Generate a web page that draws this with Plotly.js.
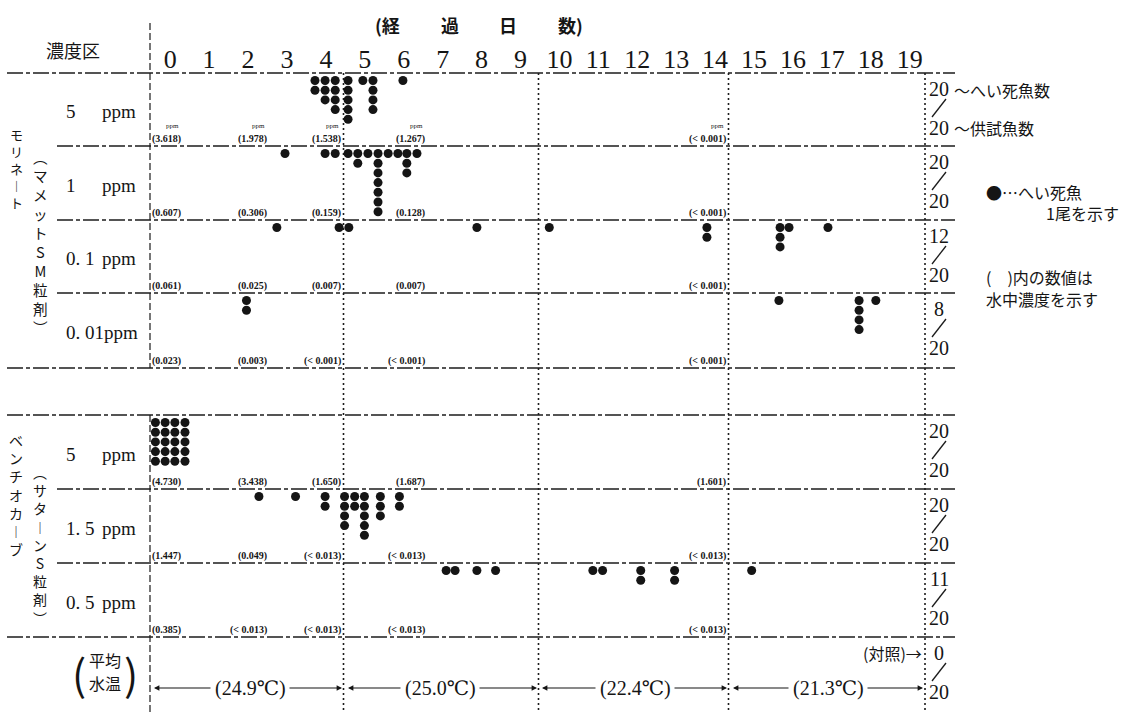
<!DOCTYPE html>
<html>
<head>
<meta charset="utf-8">
<script src="https://cdn.plot.ly/plotly-3.0.1.min.js"></script>
<style>html,body{margin:0;padding:0;background:#fff;}</style>
</head>
<body>
<div id="chart" style="width:1135px;height:712px;"></div>
<script>
// ================= DATA =================
const dayTicks = [0,1,2,3,4,5,6,7,8,9,10,11,12,13,14,15,16,17,18,19];
const dayTickLabels = ['0','1','2','3','4','5','6','7','8','9','10','11','12','13','14','15','16','17','18','19'];

const groupNames = ['モリネート', 'ベンチオカーブ'];
const productNames = ['︵マメットSM粒剤︶', '︵サターンS粒剤︶'];
const concNames = ['5', '1', '0. 1', '0. 01', '5', '1. 5', '0. 5'];
const deadCounts = [20, 20, 12, 8, 20, 20, 11];
const testCounts = [20, 20, 20, 20, 20, 20, 20];
const controlDead = 0;
const controlTest = 20;

// death dots: day at which each column of dead fish sits, and fish in that column
const m5Days   = [3.72, 3.98, 4.24, 4.57, 4.95, 5.21, 5.98];
const m5Counts = [2, 3, 4, 5, 1, 4, 1];
const m1Days   = [2.95, 3.98, 4.24, 4.57, 4.82, 5.08, 5.34, 5.60, 5.85, 6.08, 6.34];
const m1Counts = [1, 1, 1, 1, 2, 1, 7, 1, 1, 3, 1];
const m01Days   = [2.74, 4.34, 4.59, 7.88, 9.74, 13.79, 15.67, 15.90, 16.90];
const m01Counts = [1, 1, 1, 1, 1, 2, 3, 1, 1];
const m001Days   = [1.96, 15.64, 17.70, 18.13];
const m001Counts = [2, 1, 4, 1];
const b5Days   = [-0.38, -0.13, 0.12, 0.38];
const b5Counts = [5, 5, 5, 5];
const b15Days   = [2.28, 3.22, 3.98, 4.48, 4.74, 4.99, 5.40, 5.89];
const b15Counts = [1, 1, 2, 4, 2, 5, 3, 2];
const b05Days   = [7.09, 7.32, 7.88, 8.36, 10.86, 11.11, 12.09, 12.96, 14.94];
const b05Counts = [1, 1, 1, 1, 1, 1, 2, 2, 1];

// water concentration (ppm) measured on days 0, 2, 4, 6, 14
const waterM5   = ['(3.618)', '(1.978)', '(1.538)', '(1.267)', '(< 0.001)'];
const waterM1   = ['(0.607)', '(0.306)', '(0.159)', '(0.128)', '(< 0.001)'];
const waterM01  = ['(0.061)', '(0.025)', '(0.007)', '(0.007)', '(< 0.001)'];
const waterM001 = ['(0.023)', '(0.003)', '(< 0.001)', '(< 0.001)', '(< 0.001)'];
const waterB5   = ['(4.730)', '(3.438)', '(1.650)', '(1.687)', '(1.601)'];
const waterB15  = ['(1.447)', '(0.049)', '(< 0.013)', '(< 0.013)', '(< 0.013)'];
const waterB05  = ['(0.385)', '(< 0.013)', '(< 0.013)', '(< 0.013)', '(< 0.013)'];

const tempLabels = ['(24.9℃)', '(25.0℃)', '(22.4℃)', '(21.3℃)'];

// ================= LAYOUT GEOMETRY =================
const W = 1135, H = 712;
const DAY0PX = 170.2, PXPERDAY = 38.92;
const P = v => v / W;                       // pixel -> paper x
const rowTops    = [73, 146, 220, 293, 415, 489, 563];
const rowBottoms = [146, 220, 293, 368, 489, 563, 637];
const dotStart = 7.5, dotStep = 9.7;
const waterRightPx = [182, 268, 342, 426, 727];

const rowsDays   = [m5Days, m1Days, m01Days, m001Days, b5Days, b15Days, b05Days];
const rowsCounts = [m5Counts, m1Counts, m01Counts, m001Counts, b5Counts, b15Counts, b05Counts];
const rowsWater  = [waterM5, waterM1, waterM01, waterM001, waterB5, waterB15, waterB05];

const INK = '#151515';
const serif = 'Liberation Serif, DejaVu Serif, serif';
const jp = 'Noto Sans CJK JP, Noto Sans, sans-serif';

// ---- dots ----
const traces = rowsDays.map((days, r) => {
  const xs = [], ys = [];
  days.forEach((d, j) => {
    for (let k = 0; k < rowsCounts[r][j]; k++) {
      xs.push(d);
      ys.push(rowTops[r] + dotStart + k * dotStep);
    }
  });
  return {
    type: 'scatter', mode: 'markers', x: xs, y: ys,
    marker: {size: 9, color: INK, line: {width: 0}},
    hoverinfo: 'skip', showlegend: false, cliponaxis: false
  };
});

// ---- shapes ----
const shapes = [];
const hDash = '16px,3px,4px,3px';
function seg(x0, y0, x1, y1, dash, w) {
  shapes.push({type: 'line', xref: 'paper', yref: 'y', x0: P(x0), x1: P(x1), y0: y0, y1: y1,
    line: {color: '#1c1c1c', width: w, dash: dash}});
}
function hline(y, x0, x1) { seg(x0, y, x1, y, hDash, 1.3); }
hline(73, 7, 955);
hline(146, 57, 955);
hline(220, 57, 955);
hline(293, 57, 955);
hline(368, 7, 955);
hline(415, 7, 955);
hline(489, 57, 955);
hline(563, 57, 955);
hline(637, 7, 955);
seg(150, 23, 150, 368, '7px,3px', 1.2);
seg(150, 415, 150, 712, '7px,3px', 1.2);
[343.5, 538.5, 728.5, 925].forEach(x => seg(x, 73, x, 712, '2px,3px', 1.6));

// ---- annotations ----
const ann = [];
function txt(x, y, text, size, family, xanchor, weight) {
  ann.push({xref: 'paper', yref: 'y', x: P(x), y: y, text: text, showarrow: false,
    xanchor: xanchor || 'center', yanchor: 'middle', borderpad: 0,
    font: {size: size, family: family, color: INK, weight: weight || 400}});
}
const vert = s => Array.from(s.replace(/ー/g, '︱')).join('<br>');

// header
[['(経', 387], ['過', 450], ['日', 508], ['数)', 570]].forEach(t => txt(t[1], 25, t[0], 18, jp, 'center', 700));
txt(73, 50, '濃度区', 18, jp);

// vertical group labels
txt(16, 168, vert(groupNames[0]), 13, jp);
txt(40, 242, vert(productNames[0]), 14.6, jp);
txt(16, 494, vert(groupNames[1]), 14, jp);
txt(40, 545, vert(productNames[1]), 14, jp);

// concentration row labels
concNames.forEach((n, r) => {
  const ym = (rowTops[r] + rowBottoms[r]) / 2 + 2;
  if (n.length > 4) {
    txt(65, ym, n + 'ppm', 19, serif, 'left');
  } else {
    txt(65, ym, n, 19, serif, 'left');
    txt(137, ym, 'ppm', 19, serif, 'right');
  }
});

// water concentration labels
rowsWater.forEach((arr, r) => {
  arr.forEach((t, j) => {
    txt(waterRightPx[j], rowBottoms[r] - 7, t, 10, serif, 'right', 700);
    if (r === 0) txt(waterRightPx[j] - 2, rowBottoms[r] - 20, 'ppm', 7, serif, 'right');
  });
});

// fraction labels (dead / tested)
const fracX = 939;
function frac(top, num, den) {
  txt(fracX, top + 16, String(num), 20, serif);
  seg(fracX - 7, top + 44, fracX + 7, top + 26, 'solid', 1.3);
  txt(fracX, top + 55, String(den), 20, serif);
}
deadCounts.forEach((d, r) => frac(rowTops[r], d, testCounts[r]));
frac(637, controlDead, controlTest);
txt(923, 653, '(対照)→', 16, jp, 'right');

// legend notes
txt(953, 90, '～へい死魚数', 16, jp, 'left');
txt(953, 128, '～供試魚数', 16, jp, 'left');
txt(985, 192, '●…へい死魚', 16, jp, 'left');
txt(1045, 213, '1尾を示す', 16, jp, 'left');
txt(985, 277, '(　)内の数値は', 16, jp, 'left');
txt(985, 299, '水中濃度を示す', 16, jp, 'left');

// mean water temperature
txt(105, 660, '平均', 16, jp);
txt(105, 683, '水温', 16, jp);
txt(79, 672, '(', 42, jp);
txt(131, 672, ')', 42, jp);
const tCenter = [250, 440, 635, 828], tLeft = [154, 348, 542, 733], tRight = [342, 537, 727, 923];
const tHalf = 38;
tempLabels.forEach((t, i) => {
  txt(tCenter[i], 688, t, 20, serif);
  const base = {xref: 'paper', yref: 'y', y: 688, text: '', showarrow: true, arrowhead: 2, arrowsize: 0.9,
    arrowwidth: 1.2, arrowcolor: INK, standoff: 0, ay: 0};
  ann.push(Object.assign({}, base, {x: P(tLeft[i]), ax: (tCenter[i] - tHalf) - tLeft[i]}));
  ann.push(Object.assign({}, base, {x: P(tRight[i]), ax: (tCenter[i] + tHalf) - tRight[i]}));
});

const layout = {
  width: W, height: H, autosize: false,
  margin: {l: 0, r: 0, t: 0, b: 0, pad: 0},
  paper_bgcolor: '#fff', plot_bgcolor: '#fff',
  showlegend: false,
  xaxis: {
    range: [-DAY0PX / PXPERDAY, (W - DAY0PX) / PXPERDAY], domain: [0, 1],
    anchor: 'free', position: 1 - 73 / H, side: 'top',
    tickvals: dayTicks, ticktext: dayTickLabels, ticks: '',
    tickfont: {family: serif, size: 26, color: INK},
    showgrid: false, zeroline: false, showline: false, automargin: false, fixedrange: true
  },
  yaxis: {range: [H, 0], domain: [0, 1], showgrid: false, zeroline: false, showline: false,
    showticklabels: false, ticks: '', automargin: false, fixedrange: true},
  shapes: shapes,
  annotations: ann
};

Plotly.newPlot('chart', traces, layout, {staticPlot: true, displayModeBar: false});
</script>
</body>
</html>
